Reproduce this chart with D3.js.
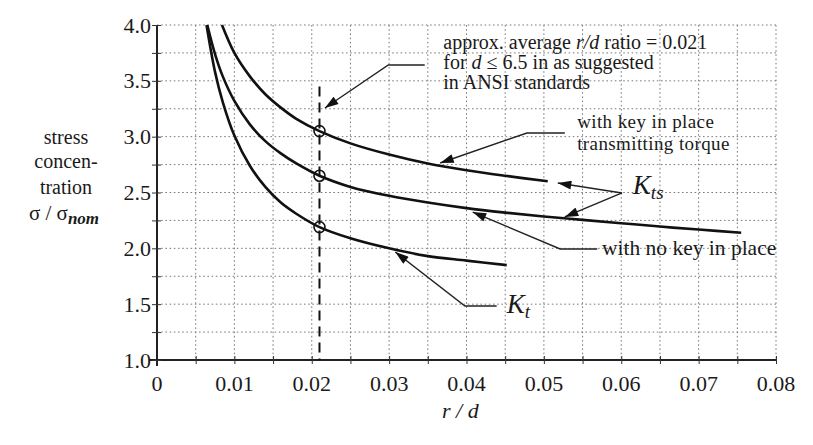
<!DOCTYPE html>
<html>
<head>
<meta charset="utf-8">
<script src="https://cdn.jsdelivr.net/npm/d3@7"></script>
<style>
  html, body { margin: 0; padding: 0; background: #fff; }
  svg { display: block; }
  text { font-family: "Liberation Serif", "DejaVu Serif", serif; fill: #1a1a1a; }
</style>
</head>
<body>
<svg id="chart" width="813" height="445"></svg>
<script>
// Stress concentration factor vs. fillet ratio r/d for a keyed shaft

// K_ts with key in place transmitting torque
const keyTorqueRd = [0.0084, 0.010, 0.012, 0.014, 0.016, 0.018, 0.021, 0.025, 0.030, 0.035, 0.040, 0.045, 0.0505];
const keyTorqueK  = [4.00,   3.75,  3.54,  3.38,  3.26,  3.16,  3.05,  2.94,  2.84,  2.76,  2.70,  2.65,  2.60];

// K_ts with no key in place
const noKeyRd = [0.0065, 0.0075, 0.0085, 0.010, 0.012, 0.014, 0.016, 0.018, 0.021, 0.025, 0.030, 0.035, 0.040, 0.045, 0.050, 0.055, 0.060, 0.065, 0.070, 0.0755];
const noKeyK  = [4.00,   3.74,   3.54,   3.32,  3.11,  2.96,  2.85,  2.76,  2.65,  2.55,  2.47,  2.41,  2.36,  2.32,  2.285, 2.255, 2.225, 2.195, 2.168, 2.14];

// K_t
const ktRd = [0.0064, 0.0075, 0.0085, 0.010, 0.012, 0.014, 0.016, 0.018, 0.021, 0.025, 0.030, 0.035, 0.040, 0.0452];
const ktK  = [4.00,   3.58,   3.31,   3.01,  2.74,  2.55,  2.41,  2.31,  2.19,  2.09,  2.00,  1.93,  1.89,  1.85];

// Suggested average r/d and the values read at that ratio
const ansiRd = 0.021;
const ansiMarkers = [3.05, 2.65, 2.19];

// Axis ticks
const xTicks = [0, 0.01, 0.02, 0.03, 0.04, 0.05, 0.06, 0.07, 0.08];
const xTickLabels = ["0", "0.01", "0.02", "0.03", "0.04", "0.05", "0.06", "0.07", "0.08"];
const yTicks = [1.0, 1.5, 2.0, 2.5, 3.0, 3.5, 4.0];
const yTickLabels = ["1.0", "1.5", "2.0", "2.5", "3.0", "3.5", "4.0"];
const xGrid = d3.range(1, 17).map(i => i * 0.005);
const yGrid = d3.range(1, 13).map(i => 1 + i * 0.25);

const svg = d3.select("#chart");
const x = d3.scaleLinear().domain([0, 0.08]).range([157, 776]);
const y = d3.scaleLinear().domain([1, 4]).range([360, 25]);

// dotted grid
const grid = svg.append("g").attr("stroke", "#7a7a7a").attr("stroke-width", 1)
  .attr("stroke-dasharray", "1.6,2.6");
grid.selectAll("line.v").data(xGrid).join("line")
  .attr("x1", d => x(d)).attr("x2", d => x(d))
  .attr("y1", y(4)).attr("y2", y(1));
grid.selectAll("line.h").data(yGrid).join("line")
  .attr("x1", x(0)).attr("x2", x(0.08))
  .attr("y1", d => y(d)).attr("y2", d => y(d));

// axes
const xAxis = d3.axisBottom(x).tickValues(d3.range(0, 17).map(i => i * 0.005))
  .tickSize(0).tickFormat("");
const gx = svg.append("g").attr("transform", `translate(0,${y(1)})`).call(xAxis);
gx.select(".domain").attr("stroke", "#222").attr("stroke-width", 2)
  .attr("d", `M${x(0) - 8},0H${x(0.08)}`);
gx.selectAll(".tick line").attr("y1", -4).attr("y2", 4).attr("stroke", "#333").attr("stroke-width", 1);
svg.append("g").selectAll("text").data(xTicks).join("text")
  .attr("x", d => x(d)).attr("y", y(1) + 31)
  .attr("text-anchor", "middle").attr("font-size", 22)
  .text((d, i) => xTickLabels[i]);

const yAxis = d3.axisLeft(y).tickValues(d3.range(0, 13).map(i => 1 + i * 0.25))
  .tickSize(0).tickFormat("");
const gy = svg.append("g").attr("transform", `translate(${x(0)},0)`).call(yAxis);
gy.select(".domain").attr("stroke", "#222").attr("stroke-width", 2)
  .attr("d", `M0,${y(4)}V${y(1) + 6}`);
gy.selectAll(".tick line").attr("x1", -5).attr("x2", 4).attr("stroke", "#333").attr("stroke-width", 1);
svg.append("g").selectAll("text").data(yTicks).join("text")
  .attr("x", x(0) - 6).attr("y", d => y(d) + 7.5)
  .attr("text-anchor", "end").attr("font-size", 22)
  .text((d, i) => yTickLabels[i]);

// axis titles
svg.append("text").attr("x", x(0.0392)).attr("y", 418)
  .attr("text-anchor", "middle").attr("font-size", 22).attr("font-style", "italic")
  .text("r / d");

const yt = svg.append("g").attr("font-size", 20).attr("text-anchor", "middle");
yt.append("text").attr("x", 66).attr("y", 144).text("stress");
yt.append("text").attr("x", 66).attr("y", 168).text("concen-");
yt.append("text").attr("x", 66).attr("y", 194).text("tration");
const sig = yt.append("text").attr("x", 64).attr("y", 220).attr("font-size", 21);
sig.append("tspan").text("σ / σ");
sig.append("tspan").attr("font-style", "italic").attr("font-weight", "bold").attr("font-size", 17)
  .attr("dy", 4).text("nom");

// dashed line at the suggested r/d
svg.append("line")
  .attr("x1", x(ansiRd)).attr("x2", x(ansiRd))
  .attr("y1", y(3.45)).attr("y2", y(1))
  .attr("stroke", "#111").attr("stroke-width", 2).attr("stroke-dasharray", "10,6");

// curves
const line = d3.line().x(d => x(d[0])).y(d => y(d[1])).curve(d3.curveCatmullRom);
const curves = [
  d3.zip(keyTorqueRd, keyTorqueK),
  d3.zip(noKeyRd, noKeyK),
  d3.zip(ktRd, ktK)
];
svg.append("g").selectAll("path").data(curves).join("path")
  .attr("d", line).attr("fill", "none")
  .attr("stroke", "#111").attr("stroke-width", 2.6);

// markers at the suggested r/d
svg.append("g").selectAll("circle").data(ansiMarkers).join("circle")
  .attr("cx", x(ansiRd)).attr("cy", d => y(d)).attr("r", 5.5)
  .attr("fill", "none").attr("stroke", "#111").attr("stroke-width", 1.6);

// leader lines with arrowheads
svg.append("defs").append("marker")
  .attr("id", "head").attr("viewBox", "0 0 12 8").attr("refX", 12).attr("refY", 4)
  .attr("markerWidth", 15).attr("markerHeight", 9).attr("markerUnits", "userSpaceOnUse")
  .attr("orient", "auto")
  .append("path").attr("d", "M0,0L12,4L0,8Z").attr("fill", "#111");

const leaders = [
  [[0.0346, 3.642], [0.0299, 3.642], [0.0217, 3.257]],
  [[0.0527, 3.033], [0.0478, 3.033], [0.0366, 2.764]],
  [[0.0601, 2.496], [0.0518, 2.585]],
  [[0.0601, 2.496], [0.0527, 2.281]],
  [[0.0569, 1.994], [0.0521, 1.994], [0.0408, 2.325]],
  [[0.0439, 1.484], [0.0398, 1.484], [0.0308, 1.967]]
];
const lead = d3.line().x(d => x(d[0])).y(d => y(d[1]));
svg.append("g").selectAll("path").data(leaders).join("path")
  .attr("d", lead).attr("fill", "none").attr("stroke", "#222").attr("stroke-width", 1.4)
  .attr("marker-end", "url(#head)");

// annotations
const ann = svg.append("g").attr("font-size", 20);
const a1 = ann.append("text").attr("x", x(0.037)).attr("y", y(3.785));
a1.append("tspan").text("approx. average ");
a1.append("tspan").attr("font-style", "italic").text("r/d");
a1.append("tspan").text("  ratio = 0.021");
const a2 = ann.append("text").attr("x", x(0.037)).attr("y", y(3.606));
a2.append("tspan").text("for ");
a2.append("tspan").attr("font-style", "italic").text("d");
a2.append("tspan").text(" ≤ 6.5 in as suggested");
ann.append("text").attr("x", x(0.037)).attr("y", y(3.427)).text("in ANSI standards");

const lab = svg.append("g").attr("font-size", 19).attr("letter-spacing", 0.4);
lab.append("text").attr("x", x(0.0543)).attr("y", y(3.078)).text("with key in place");
lab.append("text").attr("x", x(0.0543)).attr("y", y(2.885)).text("transmitting torque");
svg.append("text").attr("font-size", 21.5)
  .attr("x", x(0.0575)).attr("y", y(1.940)).text("with no key in place");

const kts = svg.append("text").attr("x", x(0.0615)).attr("y", y(2.49))
  .attr("font-size", 27).attr("font-style", "italic");
kts.append("tspan").text("K");
kts.append("tspan").attr("font-size", 19).attr("dy", 5).text("ts");

const kt = svg.append("text").attr("x", x(0.0452)).attr("y", y(1.425))
  .attr("font-size", 27).attr("font-style", "italic");
kt.append("tspan").text("K");
kt.append("tspan").attr("font-size", 19).attr("dy", 5).text("t");
</script>
</body>
</html>
